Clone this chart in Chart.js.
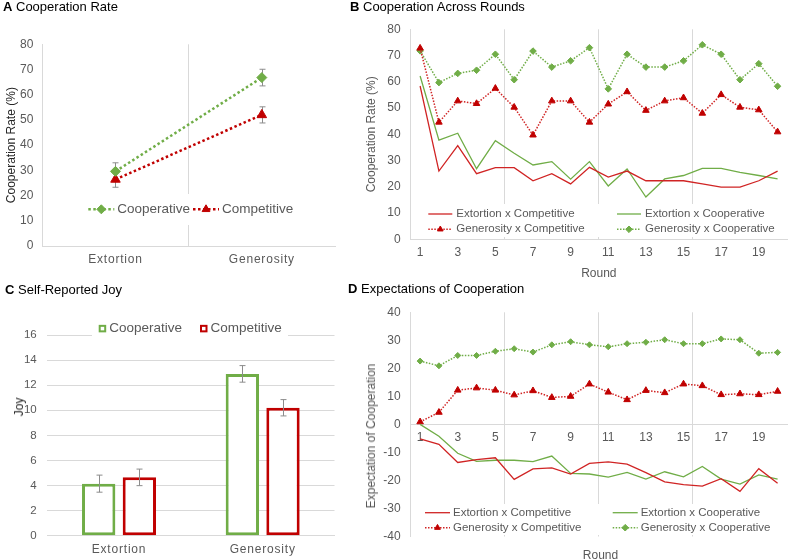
<!DOCTYPE html>
<html><head><meta charset="utf-8">
<script src="https://cdn.jsdelivr.net/npm/chart.js@4.4.1/dist/chart.umd.min.js"></script>
<style>
html,body{margin:0;padding:0;background:#fff;}
#wrap{position:relative;width:792px;height:560px;overflow:hidden;font-family:'Liberation Sans',Arial,sans-serif;background:#fff;}
canvas{position:absolute;left:0;top:0;}
.pt{position:absolute;font-size:13px;line-height:15px;color:#000;white-space:nowrap;}
.ax{position:absolute;font-size:12px;line-height:14px;white-space:nowrap;color:#595959;transform:translate(-50%,-50%);}
.rot{transform:translate(-50%,-50%) rotate(-90deg);}
</style></head>
<body><div id="wrap">
<canvas id="cA" width="792" height="560"></canvas>
<canvas id="cB" width="792" height="560"></canvas>
<canvas id="cC" width="792" height="560"></canvas>
<canvas id="cD" width="792" height="560"></canvas>
<div class="pt" style="left:3px;top:-1px"><b>A</b> Cooperation Rate</div>
<div class="pt" style="left:350px;top:-1px"><b>B</b> Cooperation Across Rounds</div>
<div class="pt" style="left:5px;top:282px"><b>C</b> Self-Reported Joy</div>
<div class="pt" style="left:348px;top:281px"><b>D</b> Expectations of Cooperation</div>
<div class="ax rot" style="left:19.3px;top:406.7px;color:#262626">Joy</div>
<div class="ax rot" style="left:371.2px;top:436px">Expectation of Cooperation</div>
<div class="ax" style="left:600.5px;top:555px">Round</div>
</div>
<script>
// ---------------- DATA ----------------
const conditions = ['Extortion', 'Generosity'];
const rateCooperative = [29.6, 66.8];
const rateCooperativeSE = [3.4, 3.3];
const rateCompetitive = [26.4, 52.0];
const rateCompetitiveSE = [3.1, 3.2];

const rounds = ['1','2','3','4','5','6','7','8','9','10','11','12','13','14','15','16','17','18','19','20'];
const roundTickLabels = ['1','3','5','7','9','11','13','15','17','19'];

const coopExtortionCompetitive = [58.4, 26.0, 35.7, 25.0, 27.3, 27.3, 22.3, 25.0, 21.1, 27.4, 23.7, 26.0, 22.3, 22.3, 22.3, 21.1, 19.9, 19.9, 22.3, 26.0];
const coopExtortionCooperative = [62.2, 37.8, 40.4, 26.9, 37.6, 32.8, 28.3, 29.6, 22.9, 29.6, 20.3, 26.8, 16.1, 23.0, 24.3, 27.0, 27.0, 25.5, 24.3, 23.0];
const coopGenerosityCompetitive = [72.8, 44.6, 52.7, 51.7, 57.5, 50.3, 39.7, 52.7, 52.7, 44.6, 51.5, 56.2, 49.1, 52.7, 53.9, 48.0, 55.1, 50.3, 49.3, 40.9];
const coopGenerosityCooperative = [71.8, 59.7, 63.2, 64.4, 70.5, 60.8, 71.7, 65.6, 68.0, 73.0, 57.3, 70.5, 65.6, 65.6, 68.0, 74.1, 70.5, 60.8, 66.9, 58.3];

const joyCooperative = [4.15, 12.9];
const joyCooperativeSE = [0.68, 0.66];
const joyCompetitive = [4.65, 10.2];
const joyCompetitiveSE = [0.66, 0.65];

const expExtortionCompetitive = [-5.2, -7.1, -13.6, -12.6, -11.9, -19.6, -15.9, -15.5, -17.7, -13.9, -13.4, -14.2, -17.2, -20.5, -21.5, -22.0, -19.4, -23.9, -15.8, -21.0];
const expExtortionCooperative = [0.0, -4.2, -10.3, -13.2, -12.8, -12.8, -13.3, -11.3, -17.5, -17.7, -18.8, -17.1, -19.5, -16.9, -18.7, -15.0, -19.5, -21.3, -18.0, -19.5];
const expGenerosityCompetitive = [0.9, 4.3, 12.2, 13.0, 12.2, 10.5, 12.0, 9.6, 10.0, 14.4, 11.5, 8.8, 12.1, 11.3, 14.4, 13.8, 10.6, 10.9, 10.6, 11.8];
const expGenerosityCooperative = [22.6, 20.9, 24.6, 24.6, 26.1, 27.0, 25.8, 28.4, 29.5, 28.4, 27.7, 28.8, 29.3, 30.2, 28.8, 28.8, 30.5, 30.2, 25.4, 25.7];

// ---------------- STYLE ----------------
const GREEN = '#70AD47';
const RED = '#C00000';
const RED_LINE = '#D02424';
const GRID = '#D9D9D9';
const TXT = '#595959';
const NONE = 'rgba(0,0,0,0)';
const FONT = "'Liberation Sans', Arial, sans-serif";

Chart.defaults.font.family = FONT;
Chart.defaults.font.size = 12;
Chart.defaults.color = TXT;

// ---------------- PLUGINS ----------------
function errorBarsPlugin(behind) {
  function draw(chart) {
    const ctx = chart.ctx, ys = chart.scales.y;
    ctx.save();
    ctx.strokeStyle = '#8C8C8C';
    ctx.lineWidth = 1;
    chart.data.datasets.forEach((ds, di) => {
      if (!ds.errors) return;
      const meta = chart.getDatasetMeta(di);
      meta.data.forEach((el, i) => {
        const v = ds.data[i], e = ds.errors[i];
        const t = ys.getPixelForValue(v + e), b = ys.getPixelForValue(v - e);
        const x = Math.round(el.x) + 0.5;
        ctx.beginPath();
        ctx.moveTo(x, t); ctx.lineTo(x, b);
        ctx.moveTo(x - 3, t); ctx.lineTo(x + 3, t);
        ctx.moveTo(x - 3, b); ctx.lineTo(x + 3, b);
        ctx.stroke();
      });
    });
    ctx.restore();
  }
  return behind ? { id: 'errorBars', beforeDatasetsDraw: draw } : { id: 'errorBars', afterDatasetsDraw: draw };
}

function markerAt(ctx, style, r, x, y) {
  if (Chart.helpers && Chart.helpers.drawPoint) {
    Chart.helpers.drawPoint(ctx, { pointStyle: style, radius: r, borderWidth: 1, rotation: 0 }, x, y);
    return;
  }
  ctx.beginPath();
  if (style === 'triangle') {
    ctx.moveTo(x, y - r); ctx.lineTo(x + r * 0.866, y + r / 2); ctx.lineTo(x - r * 0.866, y + r / 2);
  } else {
    ctx.moveTo(x - r, y); ctx.lineTo(x, y - r); ctx.lineTo(x + r, y); ctx.lineTo(x, y + r);
  }
  ctx.closePath(); ctx.fill(); ctx.stroke();
}

function insideLegend(cfg) {
  return {
    id: 'insideLegend',
    afterDatasetsDraw(chart) {
      const ctx = chart.ctx;
      ctx.save();
      if (cfg.box) { ctx.fillStyle = '#fff'; ctx.fillRect(cfg.box[0], cfg.box[1], cfg.box[2], cfg.box[3]); }
      ctx.font = cfg.font;
      ctx.textBaseline = 'middle';
      ctx.textAlign = 'left';
      cfg.items.forEach(it => {
        const ds = chart.data.datasets[it.ds];
        const x = it.x, y = it.y;
        let tx;
        if (cfg.kind === 'box') {
          const s = cfg.size;
          ctx.fillStyle = '#fff';
          ctx.fillRect(x, y - s / 2, s, s);
          ctx.strokeStyle = ds.borderColor; ctx.lineWidth = 2;
          ctx.strokeRect(x + 1, y - s / 2 + 1, s - 2, s - 2);
          tx = x + s + cfg.gap;
        } else {
          ctx.strokeStyle = ds.borderColor; ctx.lineWidth = ds.borderWidth;
          ctx.setLineDash(ds.borderDash || []);
          ctx.beginPath(); ctx.moveTo(x, y); ctx.lineTo(x + cfg.len, y); ctx.stroke();
          ctx.setLineDash([]);
          if (ds.pointRadius > 0) {
            ctx.fillStyle = ds.pointBackgroundColor; ctx.strokeStyle = ds.pointBorderColor; ctx.lineWidth = 1;
            markerAt(ctx, ds.pointStyle, cfg.markerRadius || ds.pointRadius, x + cfg.len / 2, y);
          }
          tx = x + cfg.len + cfg.gap;
        }
        ctx.fillStyle = cfg.color;
        ctx.fillText(ds.label, tx, y);
      });
      ctx.restore();
    }
  };
}

function spacedXLabels(spacing) {
  return {
    id: 'spacedXLabels',
    beforeDraw(chart) {
      const s = chart.scales.x;
      if (s && !s._spacedPatched) {
        const orig = s.drawLabels;
        s.drawLabels = function (area) {
          const c = this.ctx; c.save();
          try { c.letterSpacing = spacing; } catch (e) {}
          orig.call(this, area); c.restore();
        };
        s._spacedPatched = true;
      }
    }
  };
}

const base = { responsive: false, animation: false, events: [], devicePixelRatio: 1 };
const noPlug = { legend: { display: false }, tooltip: { enabled: false }, title: { display: false } };

function roundTick(val, index) {
  const lab = this.getLabelForValue(val);
  return roundTickLabels.includes(lab) ? lab : '';
}

// ---------------- PANEL A ----------------
new Chart(document.getElementById('cA'), {
  type: 'line',
  data: {
    labels: conditions,
    datasets: [
      { label: 'Cooperative', data: rateCooperative, errors: rateCooperativeSE, borderColor: GREEN, backgroundColor: GREEN,
        borderWidth: 2.5, borderDash: [2.5, 2.5], pointStyle: 'rectRot', pointRadius: 5, pointBackgroundColor: GREEN, pointBorderColor: GREEN, pointBorderWidth: 1, tension: 0 },
      { label: 'Competitive', data: rateCompetitive, errors: rateCompetitiveSE, borderColor: RED, backgroundColor: RED,
        borderWidth: 2.5, borderDash: [2.5, 2.5], pointStyle: 'triangle', pointRadius: 5.5, pointBackgroundColor: RED, pointBorderColor: RED, pointBorderWidth: 1, tension: 0 }
    ]
  },
  options: Object.assign({}, base, {
    layout: { padding: { left: 4.5, top: 44.3, right: 457, bottom: 294 } },
    plugins: noPlug,
    scales: {
      x: { type: 'category', offset: true,
        grid: { offset: true, drawTicks: false, color: c => c.index === 1 ? GRID : NONE },
        border: { display: true, color: GRID },
        ticks: { padding: 6, autoSkip: false, maxRotation: 0, color: TXT, font: { size: 12 } },
        afterFit: s => { s.height = 20; } },
      y: { min: 0, max: 80,
        ticks: { stepSize: 10, padding: 9, color: TXT },
        grid: { drawTicks: false, color: NONE },
        border: { display: true, color: GRID },
        title: { display: true, text: 'Cooperation Rate (%)', color: '#262626', font: { size: 12 }, padding: 0 },
        afterFit: s => { s.width = 37.8; } }
    }
  }),
  plugins: [errorBarsPlugin(true), spacedXLabels('0.8px'), insideLegend({
    kind: 'line', font: '13.5px ' + FONT, color: TXT, len: 26, gap: 3, markerRadius: 4.5,
    box: [84, 194, 216, 31],
    items: [ { ds: 0, x: 88.3, y: 209.3 }, { ds: 1, x: 193, y: 209.3 } ]
  })]
});

// ---------------- PANEL B ----------------
new Chart(document.getElementById('cB'), {
  type: 'line',
  data: {
    labels: rounds,
    datasets: [
      { label: 'Extortion x Competitive', data: coopExtortionCompetitive, borderColor: RED_LINE, borderWidth: 1.3, pointRadius: 0, tension: 0 },
      { label: 'Extortion x Cooperative', data: coopExtortionCooperative, borderColor: GREEN, borderWidth: 1.3, pointRadius: 0, tension: 0 },
      { label: 'Generosity x Competitive', data: coopGenerosityCompetitive, borderColor: RED_LINE, borderWidth: 1.5, borderDash: [1.5, 1.5],
        pointStyle: 'triangle', pointRadius: 3.8, pointBackgroundColor: RED, pointBorderColor: RED, pointBorderWidth: 1, tension: 0 },
      { label: 'Generosity x Cooperative', data: coopGenerosityCooperative, borderColor: GREEN, borderWidth: 1.5, borderDash: [1.5, 1.5],
        pointStyle: 'rectRot', pointRadius: 3.3, pointBackgroundColor: GREEN, pointBorderColor: GREEN, pointBorderWidth: 1, tension: 0 }
    ]
  },
  options: Object.assign({}, base, {
    layout: { padding: { left: 364.5, top: 29.3, right: 1, bottom: 279.5 } },
    plugins: noPlug,
    scales: {
      x: { type: 'category', offset: true,
        grid: { offset: true, drawTicks: false, color: c => (c.index === 5 || c.index === 10 || c.index === 15) ? GRID : NONE },
        border: { display: true, color: GRID },
        ticks: { padding: 5.8, autoSkip: false, maxRotation: 0, color: TXT, callback: roundTick },
        title: { display: true, text: 'Round', color: TXT, font: { size: 12 }, padding: 0 },
        afterFit: s => { s.height = 41.2; } },
      y: { min: 0, max: 80,
        ticks: { stepSize: 10, padding: 10, color: TXT },
        grid: { drawTicks: false, color: NONE },
        border: { display: true, color: GRID },
        title: { display: true, text: 'Cooperation Rate (%)', color: TXT, font: { size: 12 }, padding: 0 },
        afterFit: s => { s.width = 46.2; } }
    }
  }),
  plugins: [insideLegend({
    kind: 'line', font: '11.5px ' + FONT, color: TXT, len: 24, gap: 4, markerRadius: 3.3,
    box: [424, 204, 360, 33],
    items: [ { ds: 0, x: 428.3, y: 214 }, { ds: 1, x: 617, y: 214 },
             { ds: 2, x: 428.3, y: 229.3 }, { ds: 3, x: 617, y: 229.3 } ]
  })]
});

// ---------------- PANEL C ----------------
new Chart(document.getElementById('cC'), {
  type: 'bar',
  data: {
    labels: conditions,
    datasets: [
      { label: 'Cooperative', data: joyCooperative, errors: joyCooperativeSE, backgroundColor: '#fff', borderColor: GREEN, borderWidth: 3, borderSkipped: false,
        categoryPercentage: 0.566, barPercentage: 0.82 },
      { label: 'Competitive', data: joyCompetitive, errors: joyCompetitiveSE, backgroundColor: '#fff', borderColor: RED, borderWidth: 3, borderSkipped: false,
        categoryPercentage: 0.566, barPercentage: 0.82 }
    ]
  },
  options: Object.assign({}, base, {
    layout: { padding: { left: 7.2, top: 335, right: 457.5, bottom: 4.3 } },
    plugins: noPlug,
    scales: {
      x: { type: 'category', offset: true,
        grid: { offset: true, drawTicks: false, color: NONE },
        border: { display: true, color: GRID },
        ticks: { padding: 6.4, autoSkip: false, maxRotation: 0, color: TXT },
        afterFit: s => { s.height = 20; } },
      y: { min: 0, max: 16,
        ticks: { stepSize: 2, padding: 10.5, color: TXT, font: { size: 11.5 } },
        grid: { drawTicks: false, color: GRID },
        border: { display: false },
        afterFit: s => { s.width = 40; } }
    }
  }),
  plugins: [errorBarsPlugin(false), spacedXLabels('0.8px'), insideLegend({
    kind: 'box', font: '13.5px ' + FONT, color: TXT, size: 7.5, gap: 3,
    box: [92, 318, 196, 19],
    items: [ { ds: 0, x: 98.7, y: 328.6 }, { ds: 1, x: 200, y: 328.6 } ]
  })]
});

// ---------------- PANEL D ----------------
new Chart(document.getElementById('cD'), {
  type: 'line',
  data: {
    labels: rounds,
    datasets: [
      { label: 'Extortion x Competitive', data: expExtortionCompetitive, borderColor: RED_LINE, borderWidth: 1.3, pointRadius: 0, tension: 0 },
      { label: 'Extortion x Cooperative', data: expExtortionCooperative, borderColor: GREEN, borderWidth: 1.3, pointRadius: 0, tension: 0 },
      { label: 'Generosity x Competitive', data: expGenerosityCompetitive, borderColor: RED_LINE, borderWidth: 1.5, borderDash: [1.5, 1.5],
        pointStyle: 'triangle', pointRadius: 3.8, pointBackgroundColor: RED, pointBorderColor: RED, pointBorderWidth: 1, tension: 0 },
      { label: 'Generosity x Cooperative', data: expGenerosityCooperative, borderColor: GREEN, borderWidth: 1.5, borderDash: [1.5, 1.5],
        pointStyle: 'rectRot', pointRadius: 3, pointBackgroundColor: GREEN, pointBorderColor: GREEN, pointBorderWidth: 1, tension: 0 }
    ]
  },
  options: Object.assign({}, base, {
    layout: { padding: { left: 364.5, top: 312.3, right: 1, bottom: 23.5 } },
    plugins: noPlug,
    scales: {
      x: { type: 'category', offset: true, position: { y: 0 },
        grid: { offset: true, drawTicks: false, color: c => (c.index === 5 || c.index === 10 || c.index === 15) ? GRID : NONE },
        border: { display: true, color: GRID },
        ticks: { padding: 5.8, autoSkip: false, maxRotation: 0, color: TXT, callback: roundTick } },
      y: { min: -40, max: 40,
        ticks: { stepSize: 10, padding: 10, color: TXT },
        grid: { drawTicks: false, color: NONE },
        border: { display: true, color: GRID },
        afterFit: s => { s.width = 46.2; } }
    }
  }),
  plugins: [insideLegend({
    kind: 'line', font: '11.5px ' + FONT, color: TXT, len: 25, gap: 3, markerRadius: 3.3,
    box: [420, 504, 365, 31],
    items: [ { ds: 0, x: 425, y: 512.7 }, { ds: 1, x: 612.7, y: 512.7 },
             { ds: 2, x: 425, y: 527.7 }, { ds: 3, x: 612.7, y: 527.7 } ]
  })]
});
</script>
</body></html>
